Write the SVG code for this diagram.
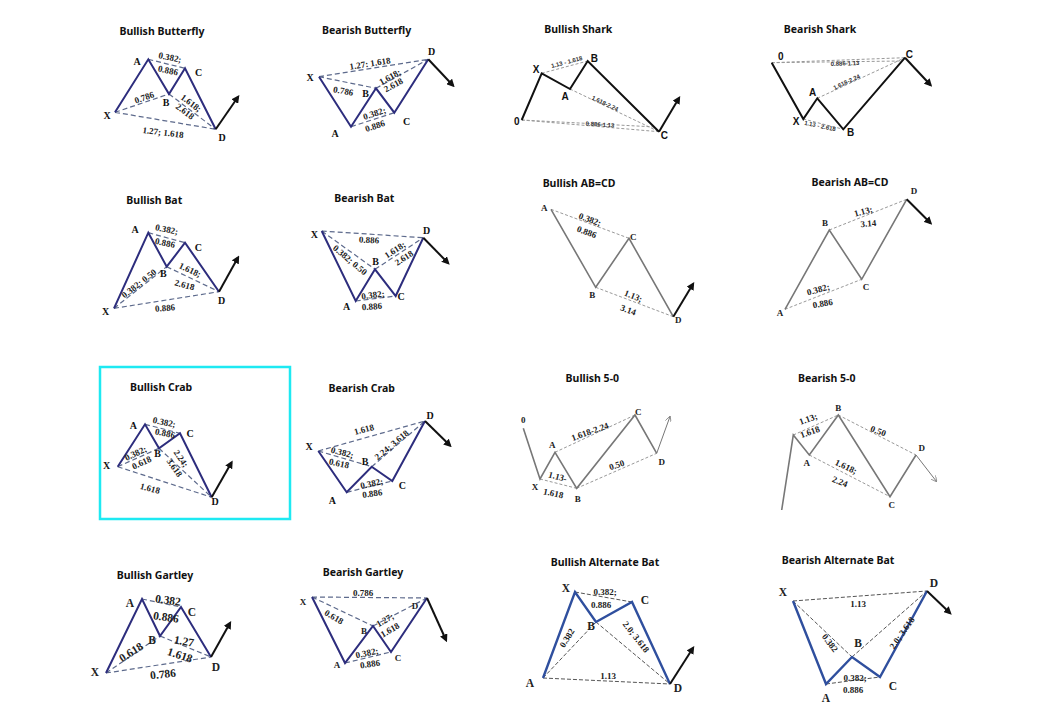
<svg xmlns="http://www.w3.org/2000/svg" width="1043" height="726" viewBox="0 0 1043 726">
<defs>
<style>
.tt{font-family:"Noto Sans","Open Sans",sans-serif;font-weight:700;font-size:10.5px;fill:#111;text-anchor:middle}
.lb{font-family:"Liberation Serif",serif;font-weight:700;font-size:9px;fill:#222;text-anchor:middle;dominant-baseline:central}
.lb2{font-family:"Liberation Serif",serif;font-weight:700;font-size:11.5px;fill:#222;text-anchor:middle;dominant-baseline:central}
.sm{font-family:"Liberation Sans",sans-serif;font-weight:700;font-size:6px;fill:#333;text-anchor:middle;dominant-baseline:central}
.pt{font-family:"Liberation Serif",serif;font-weight:700;font-size:10px;fill:#111;text-anchor:middle;dominant-baseline:central}
.ps{font-family:"Liberation Sans",sans-serif;font-weight:700;font-size:10px;fill:#111;text-anchor:middle;dominant-baseline:central}
.nv{fill:none;stroke:#2d2d7d;stroke-width:2;stroke-linejoin:miter}
.bl{fill:none;stroke:#2f4f9e;stroke-width:2.4}
.bk{fill:none;stroke:#111;stroke-width:2}
.gy{fill:none;stroke:#777;stroke-width:1.6}
.dn{fill:none;stroke:#5d6a8c;stroke-width:1.2;stroke-dasharray:5 3}
.dg{fill:none;stroke:#999;stroke-width:1;stroke-dasharray:3 2}
.dk{fill:none;stroke:#555;stroke-width:1;stroke-dasharray:4 2}
.ar{fill:none;stroke:#111;stroke-width:2;marker-end:url(#ah)}
.ar2{fill:none;stroke:#777;stroke-width:1;marker-end:url(#ah2)}
</style>
<marker id="ah" viewBox="0 0 10 10" refX="7" refY="5" markerWidth="4" markerHeight="4" orient="auto" markerUnits="strokeWidth"><path d="M0,0 L10,5 L0,10 z" fill="#111"/></marker>
<marker id="ah2" viewBox="0 0 10 10" refX="9" refY="5" markerWidth="6" markerHeight="6" orient="auto" markerUnits="strokeWidth"><path d="M0,0 L10,5 L0,10" fill="none" stroke="#777" stroke-width="1.2"/></marker>
</defs>
<rect width="1043" height="726" fill="#fff"/>

<!-- 1 Bullish Butterfly -->
<g id="bullish-butterfly">
<text class="tt" x="162" y="35">Bullish Butterfly</text>
<g class="connectors">
<path class="dn" d="M115,112.3 L169,94 M115,112.3 L215.7,129.3 M148.3,59.3 L185,68.3 M169,94 L215.7,129.3"/>
<path class="nv" d="M115,112.3 L148.3,59.3 L169,94 L185,68.3 L215.7,129.3"/>
<path class="ar" d="M215.7,129.3 L238,97"/>
</g>
<text class="pt" x="107" y="115">X</text><text class="pt" x="137" y="61.5">A</text><text class="pt" x="166" y="102.5">B</text><text class="pt" x="198.5" y="72">C</text><text class="pt" x="222" y="137.5">D</text>
<text class="lb" x="144.3" y="97.5" transform="rotate(-19 144.3 97.5)">0.786</text>
<text class="lb" x="170" y="57.5" transform="rotate(12 170 57.5)">0.382;</text>
<text class="lb" x="168" y="70.5" transform="rotate(12 168 70.5)">0.886</text>
<text class="lb" x="191" y="103" transform="rotate(37 191 103)">1.618;</text>
<text class="lb" x="185" y="111.5" transform="rotate(37 185 111.5)">2.618</text>
<text class="lb" x="163" y="132.5" transform="rotate(7 163 132.5)">1.27; 1.618</text>
</g>

<!-- 2 Bearish Butterfly -->
<g id="bearish-butterfly">
<text class="tt" x="366.7" y="34">Bearish Butterfly</text>
<g class="connectors">
<path class="dn" d="M319,76.7 L428.3,59.3 M319,76.7 L376,88.3 M376,88.3 L428.3,59.3 M351,126.7 L394.3,112.7"/>
<path class="nv" d="M319,76.7 L351,126.7 L376,88.3 L394.3,112.7 L428.3,59.3"/>
<path class="ar" d="M428.3,59.3 L453,85.5"/>
</g>
<text class="pt" x="310" y="77.5">X</text><text class="pt" x="335" y="133.5">A</text><text class="pt" x="365.7" y="93.3">B</text><text class="pt" x="406.7" y="121.7">C</text><text class="pt" x="431.7" y="51.7">D</text>
<text class="lb" x="370" y="63.5" transform="rotate(-9 370 63.5)">1.27: 1.618</text>
<text class="lb" x="343.3" y="91" transform="rotate(10 343.3 91)">0.786</text>
<text class="lb" x="390" y="77" transform="rotate(-29 390 77)">1.618;</text>
<text class="lb" x="393.5" y="85" transform="rotate(-29 393.5 85)">2.618</text>
<text class="lb" x="374.5" y="113.5" transform="rotate(-18 374.5 113.5)">0.382;</text>
<text class="lb" x="375" y="126" transform="rotate(-18 375 126)">0.886</text>
</g>

<!-- 3 Bullish Shark -->
<g id="bullish-shark">
<text class="tt" x="578.3" y="33">Bullish Shark</text>
<g class="connectors">
<path class="dg" d="M541.7,73.3 L587.7,61 M570,89 L659,131.7 M521.7,120 L659,131.7 M521.7,120 L656,127"/>
<path class="bk" d="M521.7,120 L541.7,73.3 L570,89 L587.7,61 L659,131.7"/>
<path class="ar" d="M659,131.7 L679,98"/>
</g>
<text class="ps" x="516.7" y="121.7">0</text><text class="ps" x="536" y="69">X</text><text class="ps" x="565" y="96">A</text><text class="ps" x="594.3" y="58.3">B</text><text class="ps" x="664.3" y="135">C</text>
<text class="sm" x="566.7" y="62" transform="rotate(-15 566.7 62)">1.13 - 1.618</text>
<text class="sm" x="605" y="103.5" transform="rotate(25 605 103.5)">1.618-2.24</text>
<text class="sm" x="600" y="124.5" transform="rotate(4 600 124.5)">0.886-1.13</text>
</g>

<!-- 4 Bearish Shark -->
<g id="bearish-shark">
<text class="tt" x="820" y="33">Bearish Shark</text>
<g class="connectors">
<path class="dg" d="M771.7,62.7 L905,57.7 M771.7,62.7 L902,61 M817.3,98.3 L905,57.7 M803.3,119 L843.3,129.3"/>
<path class="bk" d="M771.7,62.7 L803.3,119 L817.3,98.3 L843.3,129.3 L905,57.7"/>
<path class="ar" d="M905,57.7 L930.5,85"/>
</g>
<text class="ps" x="780.7" y="56.7">0</text><text class="ps" x="796" y="121.7">X</text><text class="ps" x="812.7" y="92.3">A</text><text class="ps" x="850.7" y="132.3">B</text><text class="ps" x="909.3" y="54">C</text>
<text class="sm" x="845" y="63.5" transform="rotate(-2 845 63.5)">0.886-1.13</text>
<text class="sm" x="846.7" y="82" transform="rotate(-25 846.7 82)">1.618-2.24</text>
<text class="sm" x="820" y="126" transform="rotate(12 820 126)">1.13 - 2.618</text>
</g>

<!-- 5 Bullish Bat -->
<g id="bullish-bat">
<text class="tt" x="154.3" y="204">Bullish Bat</text>
<g class="connectors">
<path class="dn" d="M114,308.3 L166.7,266.7 M114,308.3 L219,291.7 M148.3,232.7 L185,242.7 M166.7,266.7 L219,291.7"/>
<path class="nv" d="M114,308.3 L148.3,232.7 L166.7,266.7 L185,242.7 L219,291.7"/>
<path class="ar" d="M219,291.7 L238,257.5"/>
</g>
<text class="pt" x="105.7" y="311.7">X</text><text class="pt" x="135" y="229.3">A</text><text class="pt" x="163.3" y="273.3">B</text><text class="pt" x="198.3" y="247.3">C</text><text class="pt" x="221.7" y="300">D</text>
<text class="lb" x="139" y="283.5" transform="rotate(-38 139 283.5)">0.382; 0.50</text>
<text class="lb" x="166.7" y="229.5" transform="rotate(12 166.7 229.5)">0.382;</text>
<text class="lb" x="165" y="243" transform="rotate(12 165 243)">0.886</text>
<text class="lb" x="190" y="270" transform="rotate(25 190 270)">1.618;</text>
<text class="lb" x="184.5" y="285" transform="rotate(15 184.5 285)">2.618</text>
<text class="lb" x="165" y="308" transform="rotate(-5 165 308)">0.886</text>
</g>

<!-- 6 Bearish Bat -->
<g id="bearish-bat">
<text class="tt" x="364.3" y="202">Bearish Bat</text>
<g class="connectors">
<path class="dn" d="M321.7,231 L423.3,237.7 M321.7,231 L375,269.3 M375,269.3 L423.3,237.7 M355.7,301 L395.7,296"/>
<path class="nv" d="M321.7,231 L355.7,301 L375,269.3 L395.7,296 L423.3,237.7"/>
<path class="ar" d="M423.3,237.7 L448,263"/>
</g>
<text class="pt" x="314.3" y="234">X</text><text class="pt" x="346.7" y="306.7">A</text><text class="pt" x="375.7" y="261.7">B</text><text class="pt" x="401" y="296">C</text><text class="pt" x="426.7" y="230">D</text>
<text class="lb" x="369" y="240" transform="rotate(3 369 240)">0.886</text>
<text class="lb" x="350" y="260" transform="rotate(40 350 260)">0.382; 0.50</text>
<text class="lb" x="395" y="250" transform="rotate(-33 395 250)">1.618;</text>
<text class="lb" x="404" y="258" transform="rotate(-33 404 258)">2.618</text>
<text class="lb" x="373" y="295" transform="rotate(-7 373 295)">0.382;</text>
<text class="lb" x="372" y="306.5" transform="rotate(-4 372 306.5)">0.886</text>
</g>

<!-- 7 Bullish AB=CD -->
<g id="bullish-abcd">
<text class="tt" x="579" y="186.5">Bullish AB=CD</text>
<g class="connectors">
<path class="dg" d="M551,209.3 L629,238.3 M595.7,287.3 L673.3,316.7"/>
<path class="gy" d="M551,209.3 L595.7,287.3 L629,238.3 L673.3,316.7"/>
<path class="ar" d="M673.3,316.7 L693,284"/>
</g>
<text class="lb" x="544.3" y="208.3">A</text><text class="lb" x="592.3" y="295">B</text><text class="lb" x="633.3" y="236.7">C</text><text class="lb" x="678.3" y="320">D</text>
<text class="lb" x="590" y="219.5" transform="rotate(20 590 219.5)">0.382;</text>
<text class="lb" x="586.7" y="232" transform="rotate(20 586.7 232)">0.886</text>
<text class="lb" x="633.3" y="296" transform="rotate(22 633.3 296)">1.13;</text>
<text class="lb" x="628.3" y="310" transform="rotate(20 628.3 310)">3.14</text>
</g>

<!-- 8 Bearish AB=CD -->
<g id="bearish-abcd">
<text class="tt" x="850" y="185.5">Bearish AB=CD</text>
<g class="connectors">
<path class="dg" d="M829.3,230 L906.7,199.3 M785,309.3 L861.7,279.3"/>
<path class="gy" d="M785,309.3 L829.3,230 L861.7,279.3 L906.7,199.3"/>
<path class="ar" d="M906.7,199.3 L930.5,223"/>
</g>
<text class="lb" x="780" y="312.7">A</text><text class="lb" x="825" y="223.3">B</text><text class="lb" x="866" y="286.7">C</text><text class="lb" x="914" y="190.7">D</text>
<text class="lb" x="863.3" y="211.5" transform="rotate(-15 863.3 211.5)">1.13;</text>
<text class="lb" x="868.3" y="223.5" transform="rotate(-5 868.3 223.5)">3.14</text>
<text class="lb" x="818.3" y="289.5" transform="rotate(-15 818.3 289.5)">0.382;</text>
<text class="lb" x="822.7" y="303.5" transform="rotate(-10 822.7 303.5)">0.886</text>
</g>

<!-- 9 Bullish Crab -->
<g id="bullish-crab">
<rect x="100" y="367" width="190" height="152" fill="none" stroke="#1ee9f2" stroke-width="2.5"/>
<text class="tt" x="161" y="390.5">Bullish Crab</text>
<g class="connectors">
<path class="dn" d="M117.7,466.7 L159,448.3 M117.7,466.7 L211.7,497.3 M145,424.3 L180,433.3 M159,448.3 L211.7,497.3"/>
<path class="nv" d="M117.7,466.7 L145,424.3 L159,448.3 L180,433.3 L211.7,497.3"/>
<path class="ar" d="M211.7,497.3 L231.5,462.5"/>
</g>
<text class="pt" x="106.7" y="465.7">X</text><text class="pt" x="133.3" y="425.7">A</text><text class="pt" x="157.7" y="453.3">B</text><text class="pt" x="190" y="433.3">C</text><text class="pt" x="215" y="501.7">D</text>
<text class="lb" x="164.3" y="422.3" transform="rotate(12 164.3 422.3)">0.382;</text>
<text class="lb" x="165" y="433.3" transform="rotate(12 165 433.3)">0.886</text>
<text class="lb" x="135.7" y="453.3" transform="rotate(-25 135.7 453.3)">0.382;</text>
<text class="lb" x="141.7" y="462.7" transform="rotate(-25 141.7 462.7)">0.618</text>
<text class="lb" x="181" y="458.5" transform="rotate(55 181 458.5)">2.24;</text>
<text class="lb" x="174.5" y="467.7" transform="rotate(55 174.5 467.7)">3.618</text>
<text class="lb" x="150" y="488.5" transform="rotate(15 150 488.5)">1.618</text>
</g>

<!-- 10 Bearish Crab -->
<g id="bearish-crab">
<text class="tt" x="361.7" y="391.5">Bearish Crab</text>
<g class="connectors">
<path class="dn" d="M318.3,451 L425,421 M318.3,451 L371.7,466.7 M371.7,466.7 L425,421 M346.7,492.3 L392.3,481"/>
<path class="nv" d="M318.3,451 L346.7,492.3 L371.7,466.7 L392.3,481 L425,421"/>
<path class="ar" d="M425,421 L450,445.5"/>
</g>
<text class="pt" x="309" y="446.7">X</text><text class="pt" x="332.3" y="500">A</text><text class="pt" x="365" y="461.7">B</text><text class="pt" x="402.3" y="485.7">C</text><text class="pt" x="430" y="415">D</text>
<text class="lb" x="364" y="429.5" transform="rotate(-15 364 429.5)">1.618</text>
<text class="lb" x="342.3" y="452.5" transform="rotate(15 342.3 452.5)">0.382;</text>
<text class="lb" x="339" y="463.5" transform="rotate(12 339 463.5)">0.618</text>
<text class="lb" x="391.7" y="445" transform="rotate(-40 391.7 445)">2.24; 3.618</text>
<text class="lb" x="371.7" y="483.5" transform="rotate(-12 371.7 483.5)">0.382;</text>
<text class="lb" x="372.3" y="493.5" transform="rotate(-8 372.3 493.5)">0.886</text>
</g>

<!-- 11 Bullish 5-0 -->
<g id="bullish-5-0">
<text class="tt" x="592.3" y="381.5">Bullish 5-0</text>
<g class="connectors">
<path class="dg" d="M555,452.3 L635,415 M540,479 L576.7,488.3 M576.7,488.3 L656.7,453.3"/>
<path class="gy" d="M523.3,428.3 L540,479 L555,452.3 L576.7,488.3 L635,415 L656.7,453.3"/>
<path class="ar2" d="M656.7,453.3 L670,416.5"/>
</g>
<text class="lb" x="523.3" y="420">0</text><text class="lb" x="535" y="486.7">X</text><text class="lb" x="552.3" y="445">A</text><text class="lb" x="577.7" y="499">B</text><text class="lb" x="638.3" y="411.7">C</text><text class="lb" x="661.7" y="461.7">D</text>
<text class="lb" x="590" y="431.7" transform="rotate(-20 590 431.7)">1.618-2.24</text>
<text class="lb" x="557.7" y="476.7" transform="rotate(15 557.7 476.7)">1.13-</text>
<text class="lb" x="553.3" y="493.3" transform="rotate(12 553.3 493.3)">1.618</text>
<text class="lb" x="616.7" y="465" transform="rotate(-18 616.7 465)">0.50</text>
</g>

<!-- 12 Bearish 5-0 -->
<g id="bearish-5-0">
<text class="tt" x="826.7" y="381.5">Bearish 5-0</text>
<g class="connectors">
<path class="dg" d="M793.3,435 L838.3,415 M838.3,415 L916,455 M809.3,455 L890,496.7"/>
<path class="gy" d="M781.7,510 L793.3,435 L809.3,455 L838.3,415 L890,496.7 L916,455"/>
<path class="ar2" d="M916,455 L936.5,481.5"/>
</g>
<text class="lb" x="806.7" y="463.3">A</text><text class="lb" x="838.3" y="407.7">B</text><text class="lb" x="891.7" y="505">C</text><text class="lb" x="921.7" y="448.3">D</text>
<text class="lb" x="808.3" y="419" transform="rotate(-20 808.3 419)">1.13;</text>
<text class="lb" x="810" y="432" transform="rotate(-20 810 432)">1.618</text>
<text class="lb" x="878.3" y="431" transform="rotate(20 878.3 431)">0.50</text>
<text class="lb" x="846" y="466.7" transform="rotate(25 846 466.7)">1.618;</text>
<text class="lb" x="840" y="481.7" transform="rotate(22 840 481.7)">2.24</text>
</g>

<!-- 13 Bullish Gartley -->
<g id="bullish-gartley">
<text class="tt" x="155" y="579">Bullish Gartley</text>
<g class="connectors">
<path class="dn" d="M106,673 L160,636 M106,673 L211,657 M142,599 L181,607 M160,636 L211,657"/>
<path class="nv" d="M106,673 L142,599 L160,636 L181,607 L211,657"/>
<path class="ar" d="M211,657 L230,623"/>
</g>
<text class="lb2" x="95" y="672">X</text><text class="lb2" x="130" y="603">A</text><text class="lb2" x="152" y="640">B</text><text class="lb2" x="192" y="612">C</text><text class="lb2" x="216" y="667">D</text>
<text class="lb2" x="168" y="600" transform="rotate(8 168 600)">0.382</text>
<text class="lb2" x="166" y="617" transform="rotate(8 166 617)">0.886</text>
<text class="lb2" x="131" y="652" transform="rotate(-33 131 652)">0.618</text>
<text class="lb2" x="184" y="641" transform="rotate(10 184 641)">1.27</text>
<text class="lb2" x="180" y="655" transform="rotate(18 180 655)">1.618</text>
<text class="lb2" x="163" y="674" transform="rotate(-6 163 674)">0.786</text>
</g>

<!-- 14 Bearish Gartley -->
<g id="bearish-gartley">
<text class="tt" x="363" y="576">Bearish Gartley</text>
<g class="connectors">
<path class="dn" d="M312,597 L427,598 M312,597 L373,626 M373,626 L427,598 M345,663 L391,652"/>
<path class="nv" d="M312,597 L345,663 L373,626 L391,652 L427,598"/>
<path class="ar" d="M427,598 L446,640"/>
</g>
<text class="lb" x="303" y="602">X</text><text class="lb" x="337" y="665">A</text><text class="lb" x="364" y="631">B</text><text class="lb" x="398" y="658">C</text><text class="lb" x="415" y="606">D</text>
<text class="lb" x="363" y="592.5">0.786</text>
<text class="lb" x="334" y="617" transform="rotate(30 334 617)">0.618</text>
<text class="lb" x="385" y="620" transform="rotate(-30 385 620)">1.27;</text>
<text class="lb" x="390" y="630" transform="rotate(-30 390 630)">1.618</text>
<text class="lb" x="367" y="653" transform="rotate(-12 367 653)">0.382;</text>
<text class="lb" x="370" y="664" transform="rotate(-8 370 664)">0.886</text>
</g>

<!-- 15 Bullish Alternate Bat -->
<g id="bullish-alternate-bat">
<text class="tt" x="605" y="566">Bullish Alternate Bat</text>
<g class="connectors">
<path class="dk" d="M575,592 L632,602 M543,678 L596,622 M596,622 L670,684 M543,678 L670,684"/>
<path class="bl" d="M543,678 L575,592 L596,622 L632,602 L670,684"/>
<path class="ar" d="M670,684 L693,648"/>
</g>
<text class="lb2" x="566" y="588">X</text><text class="lb2" x="530" y="683">A</text><text class="lb2" x="591" y="626">B</text><text class="lb2" x="645" y="600">C</text><text class="lb2" x="678" y="688">D</text>
<text class="lb" x="605" y="592">0.382;</text>
<text class="lb" x="601" y="605">0.886</text>
<text class="lb" x="567" y="638" transform="rotate(-58 567 638)">0.382</text>
<text class="lb" x="636" y="637" transform="rotate(52 636 637)">2.0; 3.618</text>
<text class="lb" x="608" y="676">1.13</text>
</g>

<!-- 16 Bearish Alternate Bat -->
<g id="bearish-alternate-bat">
<text class="tt" x="838" y="564">Bearish Alternate Bat</text>
<g class="connectors">
<path class="dk" d="M793,601 L927,591 M793,601 L852,657 M852,657 L927,591 M826,684 L880,677"/>
<path class="bl" d="M793,601 L826,684 L852,657 L880,677 L927,591"/>
<path class="ar" d="M927,591 L950,613"/>
</g>
<text class="lb2" x="783" y="592">X</text><text class="lb2" x="826" y="698">A</text><text class="lb2" x="858" y="643">B</text><text class="lb2" x="893" y="686">C</text><text class="lb2" x="934" y="583">D</text>
<text class="lb" x="858" y="604">1.13</text>
<text class="lb" x="830" y="643" transform="rotate(52 830 643)">0.382</text>
<text class="lb" x="902" y="633" transform="rotate(-55 902 633)">2.0; 3.618</text>
<text class="lb" x="855" y="678">0.382;</text>
<text class="lb" x="853" y="690">0.886</text>
</g>
</svg>
